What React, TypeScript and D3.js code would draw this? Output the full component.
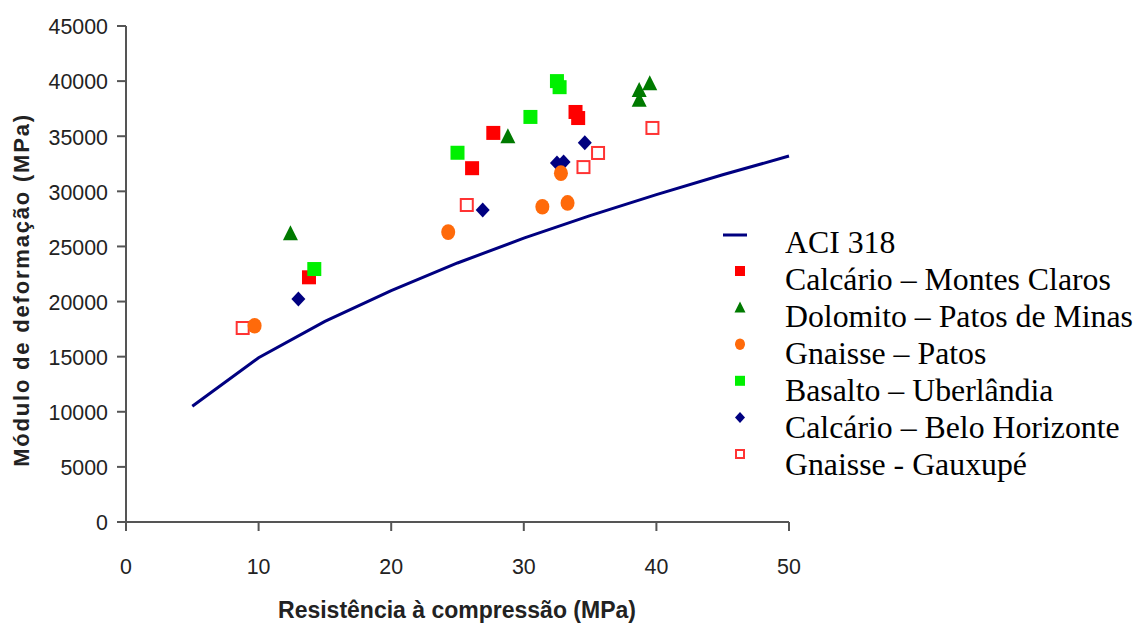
import * as d3 from 'd3';

// ACI 318 curve
const aciFc = [5, 10, 15, 20, 25, 30, 35, 40, 45, 50];
const aciE = [10500, 14900, 18200, 21000, 23500, 25750, 27800, 29700, 31500, 33200];

const calcarioMCx = [13.8, 26.1, 27.7, 33.9, 34.1];
const calcarioMCy = [22200, 32100, 35300, 37200, 36650];

const dolomitoX = [12.4, 28.8, 38.7, 38.7, 39.5];
const dolomitoY = [26200, 35000, 39200, 38300, 39800];

const gnaissePX = [9.7, 24.3, 31.4, 33.3, 32.8];
const gnaissePY = [17800, 26300, 28600, 28950, 31650];

const basaltoX = [14.2, 25.0, 30.5, 32.5, 32.7];
const basaltoY = [22950, 33500, 36750, 40000, 39450];

const calcarioBHx = [13.0, 26.9, 32.5, 33.0, 34.6];
const calcarioBHy = [20230, 28300, 32570, 32660, 34400];

const gnaisseGx = [8.8, 25.7, 34.5, 35.6, 39.7];
const gnaisseGy = [17600, 28760, 32200, 33480, 35750];

const xTicks = [0, 10, 20, 30, 40, 50];
const yTicks = [0, 5000, 10000, 15000, 20000, 25000, 30000, 35000, 40000, 45000];

const legendLabels = [
  'ACI 318',
  'Calcário – Montes Claros',
  'Dolomito – Patos de Minas',
  'Gnaisse – Patos',
  'Basalto – Uberlândia',
  'Calcário – Belo Horizonte',
  'Gnaisse - Gauxupé',
];

type Kind = 'square' | 'triangle' | 'circle' | 'diamond' | 'open';

function Marker({ kind, x, y, s, color }: { kind: Kind; x: number; y: number; s: number; color: string }) {
  const h = s / 2;
  if (kind === 'square') return <rect x={x - h} y={y - h} width={s} height={s} fill={color} />;
  if (kind === 'open')
    return <rect x={x - h + 1} y={y - h + 1} width={s - 2} height={s - 2} fill="#fff" stroke={color} strokeWidth={2} />;
  if (kind === 'circle') return <ellipse cx={x} cy={y} rx={h} ry={h + 0.8} fill={color} />;
  if (kind === 'diamond')
    return <path d={`M${x},${y - h - 0.5}L${x + h},${y}L${x},${y + h + 0.5}L${x - h},${y}Z`} fill={color} />;
  return <path d={`M${x},${y - h - 1}L${x + h + 0.5},${y + h}L${x - h - 0.5},${y + h}Z`} fill={color} />;
}

export default function App() {
  const width = 1136;
  const height = 624;
  const left = 126, right = 789, top = 26, bottom = 522;

  const x = d3.scaleLinear().domain([0, 50]).range([left, right]);
  const y = d3.scaleLinear().domain([0, 45000]).range([bottom, top]);

  const line = d3.line<number>()
    .x((_, i) => x(aciFc[i]))
    .y(d => y(d));

  const series: { xs: number[]; ys: number[]; kind: Kind; color: string }[] = [
    { xs: calcarioBHx, ys: calcarioBHy, kind: 'diamond', color: '#000080' },
    { xs: gnaisseGx, ys: gnaisseGy, kind: 'open', color: '#ff3333' },
    { xs: calcarioMCx, ys: calcarioMCy, kind: 'square', color: '#ff0000' },
    { xs: dolomitoX, ys: dolomitoY, kind: 'triangle', color: '#007a00' },
    { xs: gnaissePX, ys: gnaissePY, kind: 'circle', color: '#ff6a0a' },
    { xs: basaltoX, ys: basaltoY, kind: 'square', color: '#00f000' },
  ];

  const legendKinds: { kind: Kind; color: string }[] = [
    { kind: 'square', color: '#ff0000' },
    { kind: 'triangle', color: '#007a00' },
    { kind: 'circle', color: '#ff6a0a' },
    { kind: 'square', color: '#00f000' },
    { kind: 'diamond', color: '#000080' },
    { kind: 'open', color: '#ff3333' },
  ];

  const axisColor = '#555';
  const sans = '"Liberation Sans", Arial, sans-serif';

  return (
    <svg width={width} height={height} style={{ position: 'absolute', left: 0, top: 0, background: '#fff' }}>
      {/* axes */}
      <line x1={left} x2={left} y1={top} y2={bottom} stroke={axisColor} strokeWidth={2} />
      <line x1={left} x2={right} y1={bottom} y2={bottom} stroke={axisColor} strokeWidth={2} />
      {yTicks.map(t => (
        <g key={'y' + t}>
          <line x1={left - 9} x2={left} y1={y(t)} y2={y(t)} stroke={axisColor} strokeWidth={2} />
          <text
            transform={`translate(108,${y(t)}) scale(0.93,1)`}
            dy="0.36em"
            textAnchor="end"
            fontFamily={sans}
            fontSize={23}
            fill="#222"
          >
            {t}
          </text>
        </g>
      ))}
      {xTicks.map(t => (
        <g key={'x' + t}>
          <line x1={x(t)} x2={x(t)} y1={bottom} y2={bottom + 9} stroke={axisColor} strokeWidth={2} />
          <text
            transform={`translate(${x(t)},574) scale(0.93,1)`}
            textAnchor="middle"
            fontFamily={sans}
            fontSize={23}
            fill="#222"
          >
            {t}
          </text>
        </g>
      ))}
      <text x={457} y={618} textAnchor="middle" fontFamily={sans} fontSize={23} fontWeight="bold" fill="#222">
        Resistência à compressão (MPa)
      </text>
      <text
        transform="translate(29,290) rotate(-90)"
        textAnchor="middle"
        fontFamily={sans}
        fontSize={22}
        fontWeight="bold"
        letterSpacing={1.8}
        fill="#222"
      >
        Módulo de deformação (MPa)
      </text>

      {/* ACI curve */}
      <path d={line(aciE) || ''} fill="none" stroke="#000080" strokeWidth={3} />

      {/* points */}
      {series.map((s, si) =>
        s.xs.map((v, i) => (
          <Marker key={si + '-' + i} kind={s.kind} x={x(v)} y={y(s.ys[i])} s={14} color={s.color} />
        ))
      )}

      {/* legend */}
      <line x1={723} x2={747} y1={235} y2={235} stroke="#000080" strokeWidth={3} />
      {legendKinds.map((l, i) => (
        <Marker key={'l' + i} kind={l.kind} x={740} y={271 + i * 36.6} s={10} color={l.color} />
      ))}
      {legendLabels.map((lab, i) => (
        <text
          key={lab}
          x={785}
          y={252.5 + i * 37}
          fontFamily='"Liberation Serif", "Times New Roman", serif'
          fontSize={31.8}
          fill="#000"
        >
          {lab}
        </text>
      ))}
    </svg>
  );
}
